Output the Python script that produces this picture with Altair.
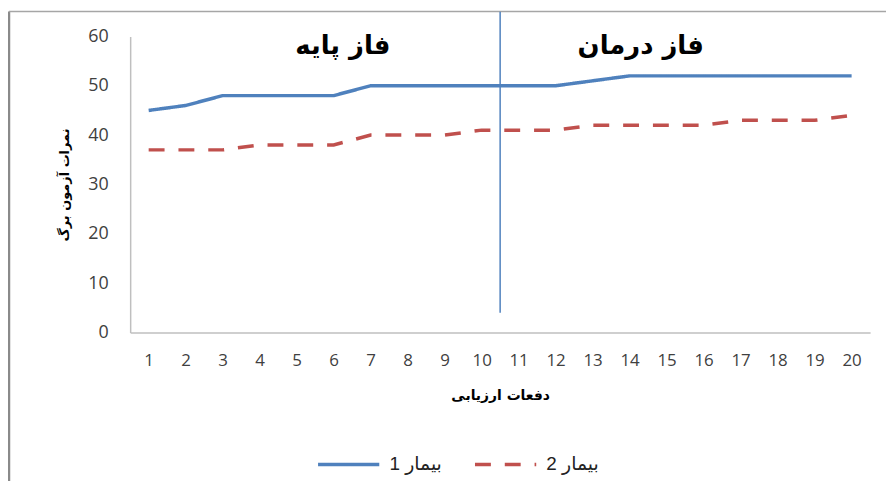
import altair as alt
import pandas as pd

# ---- data ----
sessions = list(range(1, 21))
patient1 = [45, 46, 48, 48, 48, 48, 50, 50, 50, 50, 50, 50, 51, 52, 52, 52, 52, 52, 52, 52]
patient2 = [37, 37, 37, 38, 38, 38, 40, 40, 40, 41, 41, 41, 42, 42, 42, 42, 43, 43, 43, 44]
series_names = ["بیمار 1", "بیمار 2"]
y_ticks = [0, 10, 20, 30, 40, 50, 60]

phase_labels = ["فاز پایه", "فاز درمان"]
phase_label_x = [6.25, 14.3]
phase_label_y = [58, 58]
phase_change_x = [10.5]
phase_line_from = [4]
phase_line_to = [65]

x_title = "دفعات ارزیابی"
y_title = "نمرات آزمون برگ"

rows = []
for s, a, b in zip(sessions, patient1, patient2):
    rows.append({"session": s, "score": a, "series": series_names[0]})
    rows.append({"session": s, "score": b, "series": series_names[1]})
df = pd.DataFrame(rows)

ARABIC_FONT = "DejaVu Sans"
NUM_FONT = "Open Sans"

x_scale = alt.Scale(domain=[0.5, 20.5], nice=False, zero=False)
y_scale = alt.Scale(domain=[0, 60], nice=False)

legend = alt.Legend(
    title=None,
    orient="none",
    legendX=187,
    legendY=398,
    direction="horizontal",
    symbolType="stroke",
    symbolSize=3800,
    symbolStrokeWidth=3.5,
    labelFont="Liberation Sans, DejaVu Sans",
    labelFontSize=19,
    labelColor="#222222",
    labelOffset=8,
    columnPadding=26,
)

lines = alt.Chart(df).mark_line(strokeWidth=3.5).encode(
    x=alt.X(
        "session:Q",
        scale=x_scale,
        axis=alt.Axis(
            values=sessions,
            tickCount=40,
            format="d",
            title=x_title,
            titleFont=ARABIC_FONT,
            titleFontSize=14,
            titleFontWeight="bold",
            titleColor="#000000",
            titlePadding=21,
            labelFont=NUM_FONT,
            labelFontSize=17,
            labelColor="#404040",
            labelPadding=20,
            labelFlush=False,
            labelOverlap=False,
            ticks=False,
            grid=False,
            domainColor="#bfbfbf",
            domainWidth=1.5,
        ),
    ),
    y=alt.Y(
        "score:Q",
        scale=y_scale,
        axis=alt.Axis(
            values=y_ticks,
            tickCount=10,
            format="d",
            title=y_title,
            titleFont=ARABIC_FONT,
            titleFontSize=13,
            titleFontWeight="bold",
            titleColor="#000000",
            titlePadding=16,
            labelFont=NUM_FONT,
            labelFontSize=18,
            labelColor="#404040",
            labelPadding=22,
            ticks=False,
            grid=False,
            domainColor="#bfbfbf",
            domainWidth=1.5,
        ),
    ),
    color=alt.Color(
        "series:N",
        scale=alt.Scale(domain=series_names, range=["#4F81BD", "#C0504D"]),
        legend=legend,
    ),
    strokeDash=alt.StrokeDash(
        "series:N",
        scale=alt.Scale(domain=series_names, range=[[1, 0], [16, 14]]),
        legend=legend,
    ),
)

phase_df = pd.DataFrame({"x": phase_change_x, "y": phase_line_from, "y2": phase_line_to})
phase_rule = alt.Chart(phase_df).mark_rule(color="#4F81BD", strokeWidth=1.5).encode(
    x=alt.X("x:Q", scale=x_scale),
    y=alt.Y("y:Q", scale=y_scale),
    y2="y2:Q",
)

label_df = pd.DataFrame({"x": phase_label_x, "y": phase_label_y, "t": phase_labels})
phase_text = alt.Chart(label_df).mark_text(
    font=ARABIC_FONT, fontSize=26, fontWeight="bold", color="#000000", baseline="middle"
).encode(
    x=alt.X("x:Q", scale=x_scale),
    y=alt.Y("y:Q", scale=y_scale),
    text="t:N",
)

one = pd.DataFrame({"a": [0]})
frame_left = alt.Chart(one).mark_rule(color="#8a8a8a", strokeWidth=2.5).encode(
    x=alt.value(-122), y=alt.value(-25), y2=alt.value(470)
)
frame_top = alt.Chart(one).mark_rule(color="#a6a6a6", strokeWidth=1.5).encode(
    x=alt.value(-122), x2=alt.value(780), y=alt.value(-25)
)

chart = alt.layer(frame_left, frame_top, lines, phase_rule, phase_text).properties(
    width=745,
    height=298,
    autosize=alt.AutoSizeParams(type="none"),
    padding={"left": 123, "top": 27, "right": 16, "bottom": 148},
    background="#ffffff",
).configure_view(stroke=None)

chart.save("out.html", embed_options={"renderer": "svg", "actions": False})
